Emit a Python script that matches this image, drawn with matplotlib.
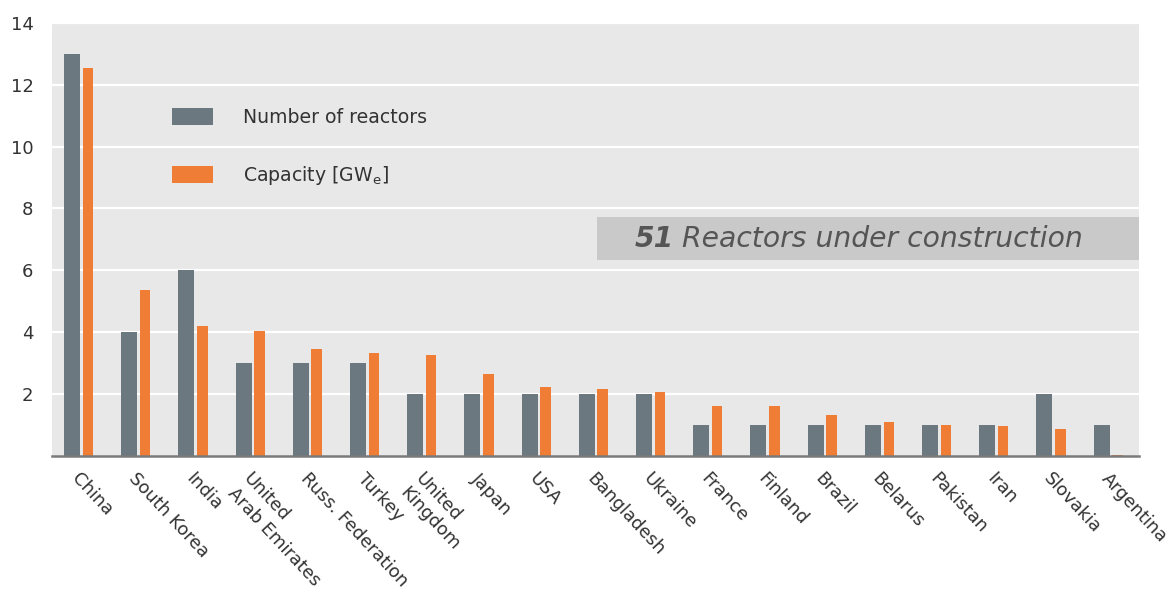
import matplotlib
matplotlib.use("Agg")
import matplotlib.pyplot as plt
import numpy as np

countries = [
    "China", "South Korea", "India", "United\nArab Emirates", "Russ. Federation",
    "Turkey", "United\nKingdom", "Japan", "USA", "Bangladesh", "Ukraine", "France",
    "Finland", "Brazil", "Belarus", "Pakistan", "Iran", "Slovakia", "Argentina",
]
reactors = [13, 4, 6, 3, 3, 3, 2, 2, 2, 2, 2, 1, 1, 1, 1, 1, 1, 2, 1]
capacity_gwe = [12.53, 5.36, 4.19, 4.04, 3.46, 3.34, 3.26, 2.65, 2.23, 2.16,
                2.07, 1.63, 1.60, 1.34, 1.11, 1.00, 0.97, 0.88, 0.03]
y_ticks = [2, 4, 6, 8, 10, 12, 14]
total_reactors = sum(reactors)

GRAY = "#6c7880"
ORANGE = "#ef7d35"
BG = "#e8e8e8"
TEXT = "#333333"

fig = plt.figure(figsize=(11.71, 5.91), dpi=100)
ax = fig.add_axes([0.0441, 0.2284, 0.9289, 0.7332])
ax.set_facecolor(BG)

x = np.arange(len(countries))
ax.bar(x - 0.25, reactors, width=0.28, align="edge", color=GRAY,
       label="Number of reactors", zorder=3)
ax.bar(x + 0.077, capacity_gwe, width=0.185, align="edge", color=ORANGE,
       label="Capacity [GW$_\\mathregular{e}$]", zorder=3)

ax.set_xlim(-0.465, len(countries) - 0.45)
ax.set_ylim(0, 14)
ax.set_yticks(y_ticks)
ax.set_yticklabels([str(v) for v in y_ticks], fontsize=13, color=TEXT)
ax.tick_params(axis="y", length=0, pad=13)
ax.yaxis.grid(True, color="white", linewidth=1.6, zorder=1)
ax.set_axisbelow(True)

ax.set_xticks(x + 0.05)
ax.set_xticklabels(countries, rotation=-47, ha="left", va="top",
                   rotation_mode="anchor", fontsize=12.9, color=TEXT,
                   multialignment="left")
ax.tick_params(axis="x", length=0, pad=10)

for side in ("top", "right", "left"):
    ax.spines[side].set_visible(False)
ax.spines["bottom"].set_color("#7a7a7a")
ax.spines["bottom"].set_linewidth(1.8)
ax.spines["bottom"].set_zorder(4)

# Banner with the total count
banner_y0, banner_y1 = 6.33, 7.72
ytrans = ax.get_yaxis_transform()
ax.add_patch(plt.Rectangle((0.5017, banner_y0), 0.4983, banner_y1 - banner_y0,
                           transform=ytrans, facecolor="#c9c9c9",
                           edgecolor="none", zorder=2))
t1 = ax.text(0.536, (banner_y0 + banner_y1) / 2, f"{total_reactors}",
             transform=ytrans, ha="left", va="center",
             fontsize=20.3, color="#555555", fontweight="bold", fontstyle="italic",
             zorder=5)
fig.canvas.draw()
bb = t1.get_window_extent()
x_after = ytrans.inverted().transform((bb.x1, bb.y0))[0]
ax.text(x_after + 0.007, (banner_y0 + banner_y1) / 2, "Reactors under construction",
        transform=ytrans, ha="left", va="center",
        fontsize=20.3, color="#555555", fontstyle="italic", zorder=5)

leg = ax.legend(loc="upper left", bbox_to_anchor=(0.1035, 0.82), frameon=False,
                fontsize=13.6, handlelength=2.2, handleheight=1.0,
                labelspacing=1.95, handletextpad=1.55, borderaxespad=0)
for txt in leg.get_texts():
    txt.set_color(TEXT)

fig.savefig("out.png", dpi=100, facecolor="white")
